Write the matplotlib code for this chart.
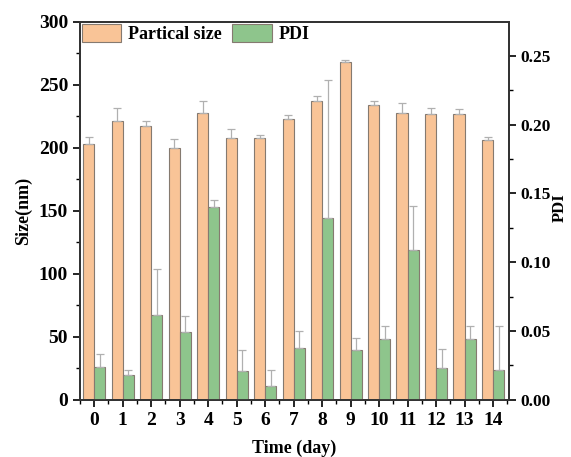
import numpy as np
import matplotlib.pyplot as plt
from matplotlib.ticker import MultipleLocator

plt.rcParams['font.family'] = ['Liberation Serif', 'DejaVu Serif']
plt.rcParams['font.weight'] = 'bold'

# data
days = list(range(15))
size = [203, 221, 217, 200, 228, 208, 208, 223, 237, 268, 234, 228, 227, 227, 206]
size_err = [6, 11, 4, 7, 9, 7, 2, 3, 4, 2, 3, 8, 5, 4, 3]
pdi = [0.024, 0.018, 0.062, 0.049, 0.140, 0.021, 0.010, 0.038, 0.132, 0.036, 0.044, 0.109, 0.023, 0.044, 0.022]
pdi_err = [0.009, 0.004, 0.033, 0.012, 0.005, 0.015, 0.012, 0.012, 0.100, 0.009, 0.010, 0.032, 0.014, 0.010, 0.032]

orange = '#f9c497'
green = '#8ec58c'
edge = '#857a70'
errc = '#b0b0b0'

x = np.array(days)
w = 0.39

fig = plt.figure(figsize=(5.71, 4.57), dpi=100)
ax = fig.add_axes([0.140, 0.125, 0.751, 0.827])
ax2 = ax.twinx()

b1 = ax.bar(x - w/2, size, w, color=orange, edgecolor=edge, linewidth=0.8,
            yerr=[np.zeros(15), size_err], error_kw=dict(ecolor=errc, elinewidth=0.9, capsize=3, capthick=0.9))
b2 = ax2.bar(x + w/2, pdi, w, color=green, edgecolor=edge, linewidth=0.8,
             yerr=[np.zeros(15), pdi_err], error_kw=dict(ecolor=errc, elinewidth=0.9, capsize=3, capthick=0.9))

ax.set_xlim(-0.5, 14.55)
ax.set_ylim(0, 300)
ax2.set_ylim(0, 0.2745)

ax.set_xticks(days)
ax.xaxis.set_minor_locator(MultipleLocator(0.5))
ax.yaxis.set_major_locator(MultipleLocator(50))
ax.yaxis.set_minor_locator(MultipleLocator(25))
ax2.yaxis.set_minor_locator(MultipleLocator(0.025))
ax2.set_yticks([0, 0.05, 0.10, 0.15, 0.20, 0.25])
ax2.set_yticklabels(['0.00', '0.05', '0.10', '0.15', '0.20', '0.25'])

ax.tick_params(axis='both', which='major', direction='out', length=5, width=1.2, labelsize=14)
ax.tick_params(axis='both', which='minor', direction='out', length=3, width=1.0)
ax2.tick_params(axis='y', which='major', direction='out', length=5, width=1.2, labelsize=12.5)
ax2.tick_params(axis='y', which='minor', direction='out', length=3, width=1.0)

for a in (ax, ax2):
    for s in a.spines.values():
        s.set_linewidth(1.3)
        s.set_color('#333333')

ax.set_xlabel('Time (day)', fontsize=13, fontweight='bold', labelpad=8)
ax.set_ylabel('Size(nm)', fontsize=13, fontweight='bold', labelpad=5)
ax2.set_ylabel('PDI', fontsize=12, fontweight='bold')
ax2.yaxis.set_label_coords(1.1, 0.51)

ax2.legend([b1, b2], ['Partical size', 'PDI'], loc='upper left', bbox_to_anchor=(0.0, 1.0),
           ncol=2, frameon=False, handlelength=2.2, handleheight=1.15,
           borderaxespad=0.05, borderpad=0.05, columnspacing=0.6, handletextpad=0.35,
           prop=dict(weight='bold', size=13))

fig.savefig('out.png', dpi=100)
